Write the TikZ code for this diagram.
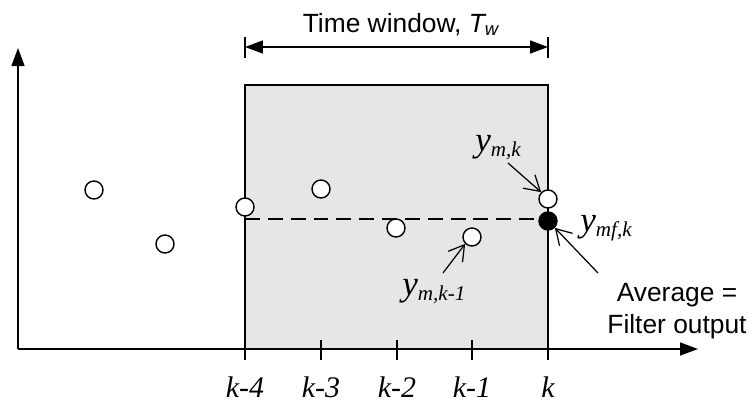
\documentclass[tikz,border=0pt]{standalone}
\usepackage{fontspec}
\setmainfont{Liberation Serif}
\setsansfont{Liberation Sans}
\usepackage{tikz}
\usetikzlibrary{arrows.meta, positioning, calc}
\definecolor{WinGray}{RGB}{230, 230, 230}

\newcommand{\symlab}[2]{y{\fontsize{12}{14}\selectfont\raisebox{-3.4pt}{#2}}}

\tikzset{
  axisline/.style={line width=0.8pt, -{Triangle[length=3.6mm, width=2.6mm]}},
  sample/.style={circle, draw, line width=0.8pt, fill=white, minimum size=3.6mm, inner sep=0pt},
  filtered/.style={sample, fill=black},
  pointer/.style={line width=0.7pt, -{Straight Barb[length=3mm, width=3.6mm]}},
  ticklbl/.style={font=\fontsize{17}{19}\selectfont\itshape, anchor=base, inner sep=0pt},
  symlbl/.style={font=\fontsize{20}{22}\selectfont\itshape, anchor=base west, inner sep=0pt},
  sanslbl/.style={font=\sffamily\fontsize{15}{18}\selectfont, align=center, inner sep=0pt}
}

\begin{document}
\begin{tikzpicture}[x=0.02cm, y=-0.02cm]
    \useasboundingbox (0,0) rectangle (748,403);

    % time window
    \fill[WinGray] (245,85) rectangle (548,349);
    \draw[line width=0.8pt] (245,360) -- (245,85) -- (548,85) -- (548,360);

    % axes
    \coordinate (O) at (18,349);
    \coordinate (xend) at (698,349);
    \coordinate (yend) at (18,48);
    \draw[axisline] (O) -- (xend);
    \draw[axisline] (O) -- (yend);

    % ticks and labels
    \foreach \x/\lbl/\nm in {245/k-4/t4, 321/k-3/t3, 397/k-2/t2, 472/k-1/t1, 548/k/t0} {
      \draw[line width=0.8pt] (\x,340) -- (\x,360);
      \node[ticklbl] (\nm) at (\x,397) {\lbl};
    }

    % window width
    \coordinate (wl) at (245,47);
    \coordinate (wr) at (548,47);
    \draw[line width=0.8pt] (245,37) -- (245,58) (548,37) -- (548,58);
    \draw[line width=0.8pt, {Triangle[length=3.6mm, width=2.6mm]}-{Triangle[length=3.6mm, width=2.6mm]}] (wl) -- (wr);
    \node[sanslbl, anchor=base] (twin) at (401,32) {Time window, \textit{T\textsubscript{w}}};

    % average line
    \draw[line width=0.8pt, dash pattern=on 8.5pt off 4.5pt] (245,219) -- (548,219);

    % samples
    \node[sample] (s7) at (94,190) {};
    \node[sample] (s6) at (165,244) {};
    \node[sample] (s4) at (245,207) {};
    \node[sample] (s3) at (321,189) {};
    \node[sample] (s2) at (396,228) {};
    \node[sample] (s1) at (472,237) {};
    \node[sample] (s0) at (548,199) {};
    \node[filtered] (avg) at (548,221) {};

    % labels and pointers
    \node[symlbl] (ymk) at (475,151) {\symlab{y}{m,k}};
    \coordinate (ymkt) at (508,163);
    \draw[pointer] (ymkt) -- (s0.north west);

    \node[symlbl] (ymk1) at (402,295) {\symlab{y}{m,k-1}};
    \coordinate (ymk1t) at (443,273);
    \draw[pointer] (ymk1t) -- (s1.south west);

    \node[symlbl] (ymf) at (580,231) {\symlab{y}{mf,k}};

    \node[sanslbl, anchor=north] (avgtxt) at (677,283) {Average =\\Filter output};
    \coordinate (avgt) at (598,273);
    \draw[pointer] (avgt) -- (avg.south east);
  \end{tikzpicture}
\end{document}
